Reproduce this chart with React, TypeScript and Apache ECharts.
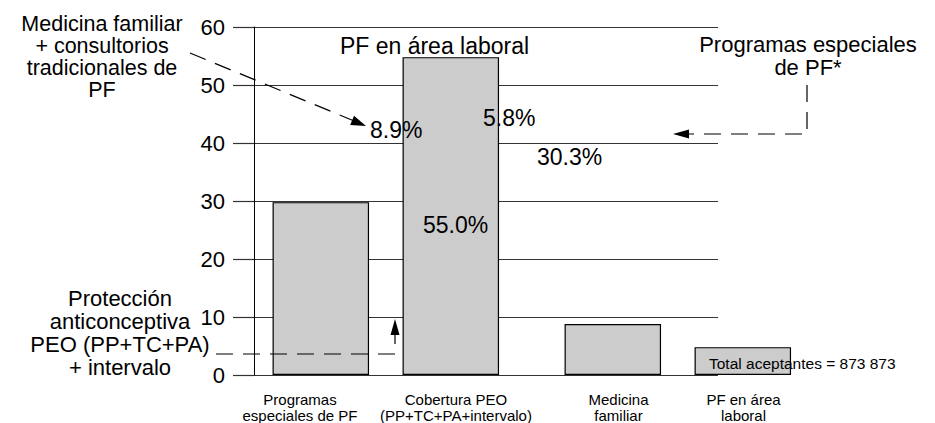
import React, { useEffect, useRef } from "react";
import * as echarts from "echarts";

// ---- data ----
const categories = [
  "Programas\nespeciales de PF",
  "Cobertura PEO\n(PP+TC+PA+intervalo)",
  "Medicina\nfamiliar",
  "PF en área\nlaboral",
];
const values = [29.8, 54.8, 8.8, 4.8];
const shareLabels = ["30.3%", "55.0%", "8.9%", "5.8%"];
const yMin = 0;
const yMax = 60;
const yInterval = 10;
const totalText = "Total aceptantes = 873 873";
const topNote = "PF en área laboral";
const noteMedicina = "Medicina familiar\n+ consultorios\ntradicionales de\nPF";
const noteProgramas = "Programas especiales\nde PF*";
const noteProteccion = "Protección\nanticonceptiva\nPEO (PP+TC+PA)\n+ intervalo";

// ---- layout (pixel offsets along the bar axis, not data) ----
const barPos = [66.8, 196.8, 358.8, 488.8];
const labelPos = [46, 202, 364.5, 489.5];

const FONT = "'Liberation Sans', Arial, Helvetica, sans-serif";

export default function App() {
  const ref = useRef<HTMLDivElement>(null);
  useEffect(() => {
    if (!ref.current) return;
    const chart = echarts.init(ref.current, undefined, { renderer: "svg" });
    const dash = [17, 10];
    const lineStyle = { stroke: "#000", lineWidth: 1.2, lineDash: dash, fill: null };
    const bigText = (text: string, x: number, y: number, align: string, lh: number, size = 23) => ({
      type: "text",
      z: 100,
      x,
      y,
      style: {
        text,
        fill: "#000",
        font: `${size}px ${FONT}`,
        textAlign: align,
        textVerticalAlign: "middle",
        lineHeight: lh,
      },
    });
    const option: any = {
      animation: false,
      backgroundColor: "#fff",
      textStyle: { fontFamily: FONT },
      grid: [
        { left: 254, right: 217, top: 27, bottom: 48 },
        { left: 254, right: 81, top: 27, bottom: 48 },
      ],
      xAxis: [
        { type: "value", gridIndex: 0, show: false, min: 0, max: 1 },
        {
          type: "value",
          gridIndex: 1,
          min: 0,
          max: 600,
          axisLine: { show: false },
          axisTick: { show: false },
          splitLine: { show: false },
          axisLabel: {
            customValues: labelPos,
            formatter: (v: number) => {
              const i = labelPos.indexOf(v);
              return i >= 0 ? categories[i] : "";
            },
            margin: 16,
            fontSize: 15,
            lineHeight: 16,
            color: "#000",
            fontFamily: FONT,
          },
        },
      ],
      yAxis: [
        {
          type: "value",
          gridIndex: 0,
          min: yMin,
          max: yMax,
          interval: yInterval,
          axisLine: { show: true, lineStyle: { color: "#000", width: 1 } },
          axisTick: { show: true, length: 21, lineStyle: { color: "#333", width: 1.2 } },
          axisLabel: { margin: 29, fontSize: 22, color: "#000", fontFamily: FONT },
          splitLine: { show: true, lineStyle: { color: "#333", width: 1.2 } },
        },
        { type: "value", gridIndex: 1, min: yMin, max: yMax, show: false },
      ],
      series: [
        {
          type: "bar",
          xAxisIndex: 1,
          yAxisIndex: 1,
          barWidth: 96.5,
          data: values.map((v, i) => [barPos[i], v]),
          itemStyle: { color: "#cccccc", borderColor: "#000", borderWidth: 1.2 },
          silent: true,
        },
      ],
      graphic: [
        bigText(noteMedicina, 102, 57, "center", 22.3, 21.5),
        bigText(noteProgramas, 808, 56, "center", 23, 22),
        bigText(noteProteccion, 120, 333, "center", 22.7, 22),
        bigText(topNote, 434.5, 46, "center", 23),
        bigText(shareLabels[2], 370, 130, "left", 23),
        bigText(shareLabels[3], 483, 117.5, "left", 23),
        bigText(shareLabels[0], 537, 156.5, "left", 23),
        bigText(shareLabels[1], 423, 225, "left", 23),
        bigText(totalText, 709, 363, "left", 16, 15.5),
        // arrow 1: Medicina familiar -> 8.9%
        { type: "line", z: 100, shape: { x1: 190, y1: 53, x2: 353, y2: 120.5 }, style: lineStyle },
        {
          type: "polygon",
          z: 100,
          shape: { points: [[366, 126], [350.2, 124.9], [354.0, 115.7]] },
          style: { fill: "#000" },
        },
        // arrow 2: Programas especiales -> 30.3%
        {
          type: "polyline",
          z: 100,
          shape: { points: [[807, 85], [807, 134], [688, 134]] },
          style: lineStyle,
        },
        {
          type: "polygon",
          z: 100,
          shape: { points: [[673, 134], [689, 129.5], [689, 138.5]] },
          style: { fill: "#000" },
        },
        // arrow 3: Protección anticonceptiva -> 55.0%
        {
          type: "polyline",
          z: 100,
          shape: { points: [[216, 354], [395, 354], [395, 335]] },
          style: lineStyle,
        },
        {
          type: "polygon",
          z: 100,
          shape: { points: [[395, 319], [390.5, 335], [399.5, 335]] },
          style: { fill: "#000" },
        },
      ],
    };
    chart.setOption(option);
    return () => chart.dispose();
  }, []);
  return (
    <div
      ref={ref}
      style={{ position: "fixed", left: 0, top: 0, width: 935, height: 423, background: "#fff" }}
    />
  );
}
